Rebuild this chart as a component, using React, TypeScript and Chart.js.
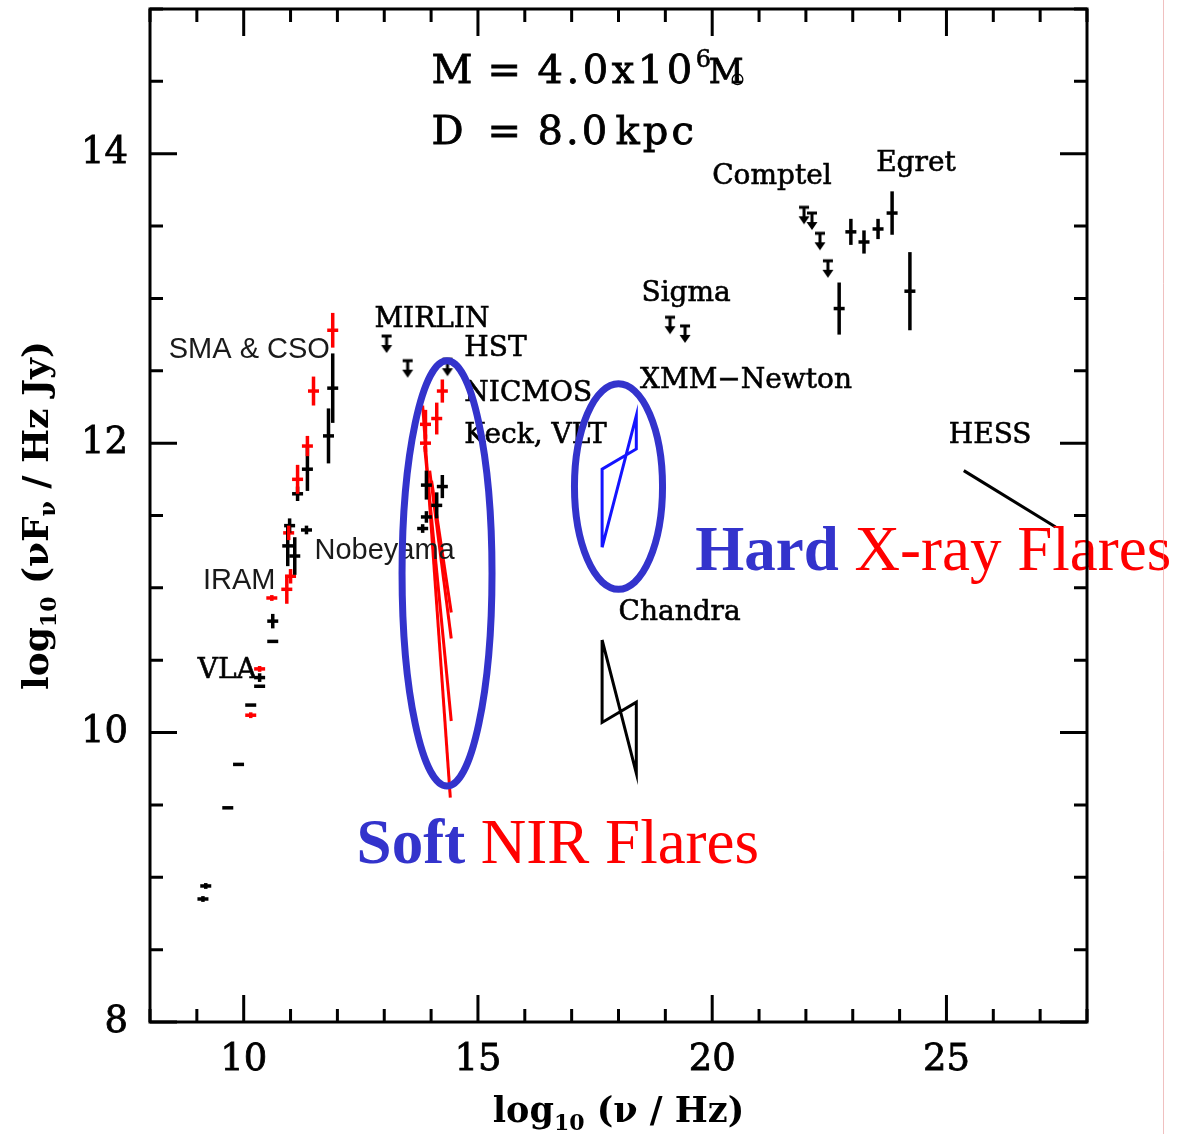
import React, { useEffect, useRef } from 'react';
import { Chart, registerables } from 'chart.js';
Chart.register(...registerables);

// ---------- axes ----------
const X_MIN = 8, X_MAX = 28;
const Y_MIN = 8, Y_MAX = 15;
const xTickLabels = [10, 15, 20, 25];
const yTickLabels = [8, 10, 12, 14];
const xMinorTicks = [8, 9, 10, 11, 12, 13, 14, 15, 16, 17, 18, 19, 20, 21, 22, 23, 24, 25, 26, 27, 28];
const yMinorTicks = [8, 8.5, 9, 9.5, 10, 10.5, 11, 11.5, 12, 12.5, 13, 13.5, 14, 14.5, 15];

// ---------- radio / sub-mm (black, quiescent) ----------
const radioBlackNu = [9.13, 9.19, 9.66, 9.89, 10.15, 10.34, 10.34, 10.62, 10.62, 10.94, 10.98, 11.09, 11.34, 11.15, 11.36, 11.81, 11.90];
const radioBlackFlux = [8.85, 8.94, 9.48, 9.78, 10.19, 10.32, 10.38, 10.63, 10.77, 11.29, 11.43, 11.22, 11.40, 11.65, 11.82, 12.05, 12.38];
const radioBlackErr = [0.02, 0.02, 0, 0, 0, 0, 0.03, 0, 0.05, 0.14, 0.05, 0.13, 0.03, 0.05, 0.15, 0.19, 0.24];

// ---------- radio / sub-mm (red, flaring) ----------
const radioRedNu = [10.15, 10.34, 10.60, 10.92, 11.00, 10.96, 11.15, 11.36, 11.49, 11.90];
const radioRedFlux = [10.12, 10.44, 10.93, 10.99, 11.08, 11.38, 11.75, 11.98, 12.36, 12.78];
const radioRedErr = [0.02, 0.02, 0.02, 0.10, 0.05, 0.05, 0.10, 0.07, 0.10, 0.12];

// ---------- NIR ----------
const nirBlackNu = [13.90, 14.24, 14.12, 13.90, 13.82];
const nirBlackFlux = [11.71, 11.70, 11.57, 11.49, 11.41];
const nirBlackErr = [0.10, 0.08, 0.09, 0.04, 0.03];

const nirRedNu = [14.24, 14.12, 13.88, 13.88];
const nirRedFlux = [12.36, 12.17, 12.13, 12.00];
const nirRedErr = [0.08, 0.11, 0.10, 0.06];

// NIR flare spectral slopes (start -> end)
const slopeStartNu = [13.82, 13.86, 13.97, 14.01];
const slopeStartFlux = [12.26, 11.98, 11.81, 11.74];
const slopeEndNu = [14.41, 14.43, 14.43, 14.43];
const slopeEndFlux = [9.55, 10.08, 10.65, 10.83];

// ---------- gamma rays (Egret) ----------
const gammaNu = [22.71, 22.96, 23.24, 23.54, 23.84, 24.22];
const gammaFlux = [12.93, 13.46, 13.39, 13.48, 13.59, 13.05];
const gammaErr = [0.18, 0.09, 0.08, 0.07, 0.15, 0.27];

// ---------- upper limits ----------
const limitNu = [13.05, 13.50, 14.35, 19.10, 19.42, 21.96, 22.13, 22.30, 22.47];
const limitFlux = [12.74, 12.57, 12.58, 12.87, 12.81, 13.63, 13.59, 13.45, 13.26];

// ---------- X-ray bow ties ----------
const flareXrayNu = [17.65, 17.65, 18.38, 18.38, 17.65];
const flareXrayFlux = [11.28, 11.82, 11.96, 12.19, 11.28];
const quietXrayNu = [17.65, 17.65, 18.38, 18.38, 17.65];
const quietXrayFlux = [10.64, 10.07, 10.21, 9.72, 10.64];

// ---------- HESS ----------
const hessNu = [25.37, 27.33];
const hessFlux = [11.81, 11.42];

// ---------- ellipses (center nu, center flux, half-width, half-height) ----------
const ellipseNu = [14.34, 18.00];
const ellipseFlux = [11.10, 11.70];
const ellipseRx = [0.96, 0.94];
const ellipseRy = [1.47, 0.71];

// ---------- instrument labels (left, baseline) ----------
const serifLabels = ['Comptel', 'Egret', 'Sigma', 'MIRLIN', 'HST', 'NICMOS', 'Keck, VLT', 'XMM\u2212Newton', 'HESS', 'Chandra', 'VLA'];
const serifLabelNu = [20.00, 23.50, 18.49, 12.79, 14.71, 14.71, 14.71, 18.46, 25.05, 18.00, 9.02];
const serifLabelFlux = [13.79, 13.88, 12.98, 12.80, 12.605, 12.29, 12.00, 12.38, 12.00, 10.78, 10.38];

const sansLabels = ['SMA & CSO', 'Nobeyama', 'IRAM'];
const sansLabelNu = [8.40, 11.51, 9.13];
const sansLabelFlux = [12.59, 11.20, 10.995];

const hardLabel = ['Hard', 'X-ray Flares'];
const hardLabelAt = [19.64, 11.12];
const softLabel = ['Soft', 'NIR Flares'];
const softLabelAt = [12.41, 9.10];

const massLabelAt = [14.01, 14.49];
const distLabelAt = [14.01, 14.07];

const BLUE = 'rgb(51,51,204)';
const XBLUE = 'rgb(20,20,255)';
const RED = '#ff0000';
const SERIF = '"DejaVu Serif", serif';
const SANS = '"Liberation Sans", Arial, sans-serif';
const TIMES = '"Liberation Serif", "Times New Roman", serif';

const pts = (xs: number[], ys: number[]) => xs.map((x, i) => ({ x, y: ys[i] }));

function makeArrow(): HTMLCanvasElement {
  const c = document.createElement('canvas');
  c.width = 16; c.height = 44;
  const g = c.getContext('2d')!;
  g.strokeStyle = '#000'; g.fillStyle = '#000'; g.lineWidth = 3;
  g.beginPath(); g.moveTo(3, 22); g.lineTo(13, 22); g.stroke();
  g.beginPath(); g.moveTo(8, 22); g.lineTo(8, 33); g.stroke();
  g.beginPath(); g.moveTo(2.5, 31); g.lineTo(13.5, 31); g.lineTo(8, 39); g.closePath(); g.fill();
  return c;
}

type Part = { t: string; size: number; dy?: number; font?: string; weight?: string; color?: string };

function richWidth(ctx: CanvasRenderingContext2D, parts: Part[], family: string) {
  let w = 0;
  for (const p of parts) {
    ctx.font = `${p.weight || 'normal'} ${p.size}px ${p.font || family}`;
    w += ctx.measureText(p.t).width;
  }
  return w;
}
function drawRich(ctx: CanvasRenderingContext2D, parts: Part[], x: number, y: number, family: string, color = '#000') {
  let cx = x;
  for (const p of parts) {
    ctx.font = `${p.weight || 'normal'} ${p.size}px ${p.font || family}`;
    ctx.fillStyle = p.color || color;
    ctx.fillText(p.t, cx, y + (p.dy || 0));
    cx += ctx.measureText(p.t).width;
  }
}

// fill + thin stroke to mimic the heavier plotting font
function heavyText(ctx: CanvasRenderingContext2D, t: string, x: number, y: number, w = 0.7) {
  ctx.fillText(t, x, y);
  ctx.lineWidth = w;
  ctx.strokeStyle = ctx.fillStyle as string;
  ctx.strokeText(t, x, y);
}

const overlayPlugin = {
  id: 'overlay',
  afterDatasetsDraw(chart: any) {
    const ctx: CanvasRenderingContext2D = chart.ctx;
    const a = chart.chartArea;
    const xs = chart.scales.x, ys = chart.scales.y;
    const X = (v: number) => xs.getPixelForValue(v);
    const Y = (v: number) => ys.getPixelForValue(v);
    ctx.save();

    // error bars
    chart.data.datasets.forEach((ds: any) => {
      if (!ds.yErr) return;
      ctx.strokeStyle = ds.pointBorderColor;
      ctx.lineWidth = 3.5;
      ctx.lineCap = 'butt';
      ds.data.forEach((p: any, j: number) => {
        const e = ds.yErr[j];
        if (!e) return;
        ctx.beginPath();
        ctx.moveTo(X(p.x), Y(p.y - e));
        ctx.lineTo(X(p.x), Y(p.y + e));
        ctx.stroke();
      });
    });

    // labels
    ctx.textBaseline = 'alphabetic';
    ctx.textAlign = 'left';
    ctx.fillStyle = '#000';
    ctx.font = `28px ${SERIF}`;
    serifLabels.forEach((t, i) => heavyText(ctx, t, X(serifLabelNu[i]), Y(serifLabelFlux[i]), 0.6));
    ctx.font = `29px ${SANS}`;
    ctx.fillStyle = '#1a1a1a';
    sansLabels.forEach((t, i) => ctx.fillText(t, X(sansLabelNu[i]), Y(sansLabelFlux[i])));

    // mass / distance
    {
      const L = ctx as any;
      const mx = X(massLabelAt[0]), my = Y(massLabelAt[1]);
      ctx.fillStyle = '#000';
      ctx.font = `40px ${SERIF}`;
      heavyText(ctx, 'M', mx, my, 0.8);
      heavyText(ctx, '=', mx + 56, my, 0.8);
      L.letterSpacing = '3.5px';
      heavyText(ctx, '4.0x10', mx + 106, my, 0.8);
      const nw = ctx.measureText('4.0x10').width;
      L.letterSpacing = '0px';
      ctx.font = `24px ${SERIF}`;
      heavyText(ctx, '6', mx + 106 + nw, my - 16, 0.6);
      ctx.font = `34px ${SERIF}`;
      heavyText(ctx, 'M', mx + 106 + nw + 13, my, 0.8);
      ctx.font = `18px "DejaVu Sans", sans-serif`;
      ctx.textBaseline = 'middle';
      const sw = ctx.measureText('\u2299').width;
      ctx.fillText('\u2299', mx + 106 + nw + 42 - sw / 2, my - 2);
      ctx.textBaseline = 'alphabetic';
      const dx = X(distLabelAt[0]), dy = Y(distLabelAt[1]);
      ctx.font = `40px ${SERIF}`;
      heavyText(ctx, 'D', dx, dy, 0.8);
      heavyText(ctx, '=', dx + 56, dy, 0.8);
      L.letterSpacing = '3px';
      heavyText(ctx, '8.0', dx + 106, dy, 0.8);
      heavyText(ctx, 'kpc', dx + 184, dy, 0.8);
      L.letterSpacing = '0px';
    }

    // Hard X-ray / Soft NIR
    const big = (words: string[], at: number[]) => {
      const x0 = X(at[0]), y0 = Y(at[1]);
      ctx.font = `bold 63px ${TIMES}`;
      ctx.fillStyle = BLUE;
      ctx.fillText(words[0], x0, y0);
      const w = ctx.measureText(words[0] + ' ').width;
      ctx.font = `63px ${TIMES}`;
      ctx.fillStyle = RED;
      ctx.fillText(words[1], x0 + w, y0);
    };
    big(hardLabel, hardLabelAt);
    big(softLabel, softLabelAt);

    // ellipses
    ctx.strokeStyle = BLUE;
    ctx.lineWidth = 7;
    ellipseNu.forEach((cxv, i) => {
      const cx = X(cxv), cy = Y(ellipseFlux[i]);
      const rx = Math.abs(X(cxv + ellipseRx[i]) - cx);
      const ry = Math.abs(Y(ellipseFlux[i] + ellipseRy[i]) - cy);
      ctx.beginPath();
      ctx.ellipse(cx, cy, rx, ry, 0, 0, Math.PI * 2);
      ctx.stroke();
    });

    // frame
    ctx.strokeStyle = '#000';
    ctx.lineWidth = 3;
    ctx.strokeRect(a.left, a.top, a.right - a.left, a.bottom - a.top);

    // ticks on all four sides
    ctx.lineWidth = 3;
    xMinorTicks.forEach(v => {
      const len = xTickLabels.includes(v) ? 27 : 13;
      const px = X(v);
      ctx.beginPath();
      ctx.moveTo(px, a.bottom); ctx.lineTo(px, a.bottom - len);
      ctx.moveTo(px, a.top); ctx.lineTo(px, a.top + len);
      ctx.stroke();
    });
    yMinorTicks.forEach(v => {
      const len = yTickLabels.includes(v) ? 27 : 13;
      const py = Y(v);
      ctx.beginPath();
      ctx.moveTo(a.left, py); ctx.lineTo(a.left + len, py);
      ctx.moveTo(a.right, py); ctx.lineTo(a.right - len, py);
      ctx.stroke();
    });

    // axis titles
    const xt: Part[] = [
      { t: 'log', size: 35, weight: 'bold' },
      { t: '10', size: 22, dy: 8, weight: 'bold' },
      { t: ' (\u03bd / Hz)', size: 35, weight: 'bold' },
    ];
    const xw = richWidth(ctx, xt, SERIF);
    drawRich(ctx, xt, (a.left + a.right) / 2 - xw / 2, 1122, SERIF);

    const yt: Part[] = [
      { t: 'log', size: 36, weight: 'bold' },
      { t: '10', size: 22, dy: 8, weight: 'bold' },
      { t: ' (\u03bdF', size: 36, weight: 'bold' },
      { t: '\u03bd', size: 22, dy: 7, weight: 'bold' },
      { t: ' / Hz Jy)', size: 36, weight: 'bold' },
    ];
    const yw = richWidth(ctx, yt, SERIF);
    ctx.save();
    ctx.translate(48, (a.top + a.bottom) / 2);
    ctx.rotate(-Math.PI / 2);
    drawRich(ctx, yt, -yw / 2, 0, SERIF);
    ctx.restore();

    // faint page edge
    ctx.strokeStyle = 'rgba(230,150,150,0.6)';
    ctx.lineWidth = 1;
    ctx.beginPath();
    ctx.moveTo(1163.5, 0); ctx.lineTo(1163.5, chart.height);
    ctx.stroke();

    ctx.restore();
  },
};

export default function App() {
  const ref = useRef<HTMLCanvasElement>(null);
  useEffect(() => {
    const arrow = makeArrow();
    const pointSet = (label: string, nu: number[], flux: number[], err: number[], color: string) => ({
      type: 'scatter',
      label,
      data: pts(nu, flux),
      yErr: err,
      pointStyle: 'line',
      pointRadius: 5.5,
      pointBorderWidth: 3.5,
      pointBorderColor: color,
      borderColor: color,
      backgroundColor: color,
      showLine: false,
    });
    const lineSet = (label: string, nu: number[], flux: number[], color: string, width: number) => ({
      type: 'scatter',
      label,
      data: pts(nu, flux),
      showLine: true,
      pointRadius: 0,
      borderColor: color,
      borderWidth: width,
      backgroundColor: color,
      tension: 0,
    });
    const slopeSets = slopeStartNu.map((_, i) =>
      lineSet('NIR slope ' + (i + 1), [slopeStartNu[i], slopeEndNu[i]], [slopeStartFlux[i], slopeEndFlux[i]], RED, 3)
    );
    const chart = new Chart(ref.current!, {
      type: 'scatter',
      data: {
        datasets: [
          pointSet('radio quiescent', radioBlackNu, radioBlackFlux, radioBlackErr, '#000'),
          pointSet('radio flare', radioRedNu, radioRedFlux, radioRedErr, RED),
          pointSet('NIR quiescent', nirBlackNu, nirBlackFlux, nirBlackErr, '#000'),
          pointSet('NIR flare', nirRedNu, nirRedFlux, nirRedErr, RED),
          pointSet('Egret', gammaNu, gammaFlux, gammaErr, '#000'),
          {
            type: 'scatter',
            label: 'upper limits',
            data: pts(limitNu, limitFlux),
            pointStyle: arrow,
            pointRadius: 8,
            showLine: false,
          },
          ...slopeSets,
          lineSet('X-ray flare', flareXrayNu, flareXrayFlux, XBLUE, 3),
          lineSet('Chandra quiescent', quietXrayNu, quietXrayFlux, '#000', 3),
          lineSet('HESS', hessNu, hessFlux, '#000', 3),
        ] as any,
      },
      options: {
        animation: false,
        responsive: false,
        maintainAspectRatio: false,
        layout: { padding: { top: 8, right: 96, left: 0, bottom: 0 } },
        plugins: { legend: { display: false }, tooltip: { enabled: false }, title: { display: false } },
        scales: {
          x: {
            type: 'linear',
            min: X_MIN,
            max: X_MAX,
            position: 'bottom',
            afterBuildTicks: (s: any) => { s.ticks = xTickLabels.map(v => ({ value: v })); },
            afterFit: (s: any) => { s.height = 112; s.paddingLeft = 0; s.paddingRight = 0; },
            grid: { display: false, drawTicks: false },
            border: { display: false },
            ticks: { font: { family: SERIF, size: 37 }, color: '#000', textStrokeColor: '#000', textStrokeWidth: 0.8, padding: 16, maxRotation: 0, autoSkip: false },
          },
          y: {
            type: 'linear',
            min: Y_MIN,
            max: Y_MAX,
            position: 'left',
            afterBuildTicks: (s: any) => { s.ticks = yTickLabels.map(v => ({ value: v })); },
            afterFit: (s: any) => { s.width = 150; s.paddingTop = 0; s.paddingBottom = 0; },
            grid: { display: false, drawTicks: false },
            border: { display: false },
            ticks: { font: { family: SERIF, size: 37 }, color: '#000', textStrokeColor: '#000', textStrokeWidth: 0.8, padding: 22, autoSkip: false },
          },
        },
      } as any,
      plugins: [overlayPlugin],
    });
    return () => chart.destroy();
  }, []);
  return (
    <div style={{ position: 'absolute', left: 0, top: 0, width: 1183, height: 1134, background: '#fff' }}>
      <canvas ref={ref} width={1183} height={1134} style={{ width: 1183, height: 1134, display: 'block' }} />
    </div>
  );
}
